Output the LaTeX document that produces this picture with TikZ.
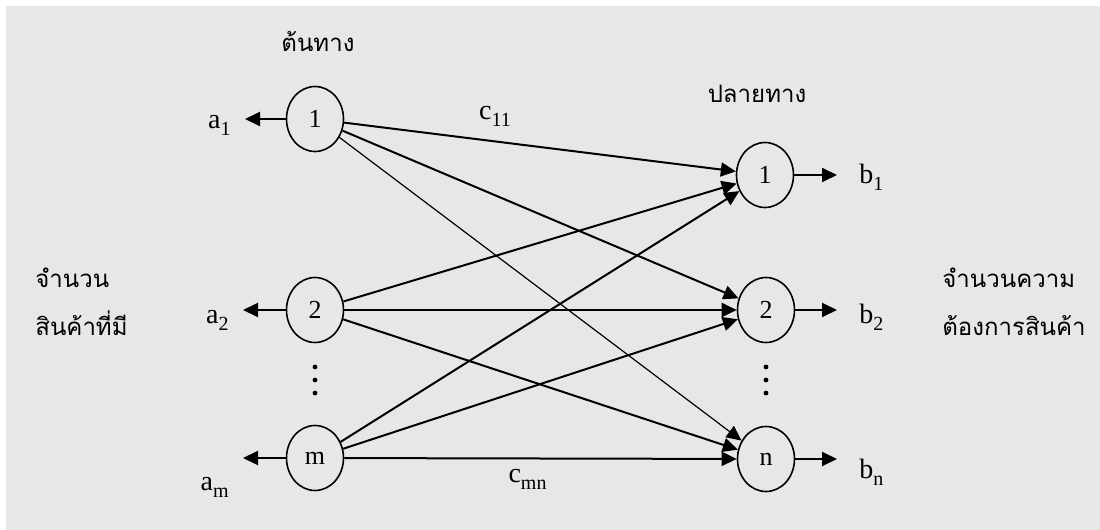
\documentclass[tikz,border=0pt]{standalone}
\usepackage{fontspec}
\setmainfont{Liberation Serif}
\newfontfamily\thaifont[Script=Thai]{Loma}
\usepackage{tikz}
\usetikzlibrary{positioning,shapes.geometric,arrows.meta}

\definecolor{paper}{RGB}{231,231,231}

% letter with a lowered index
\newcommand{\ix}[2]{#1\raisebox{-3.5pt}{\fontsize{10}{10}\selectfont #2}}

\tikzset{
  place/.style={draw, ellipse, minimum width=28.5pt, minimum height=32.5pt, inner sep=0pt, line width=0.8pt},
  flow/.style={-{Triangle[length=7.5pt,width=7pt]}, line width=1pt},
  lbl/.style={inner xsep=#1, inner ysep=1pt, font=\fontsize{14}{16}\selectfont},
  lbl/.default=7pt,
  thai/.style={font=\thaifont\fontsize{12}{14}\selectfont, inner sep=0pt}
}

\begin{document}
\begin{tikzpicture}[x=0.5pt, y=-0.5pt, font=\fontsize{13}{15}\selectfont]
  \fill[white] (0,0) rectangle (1100,530);
  \fill[paper] (6,6) rectangle (1100,530);
  \useasboundingbox (0,0) rectangle (1100,530);

  % sources and destinations
  \node[place] (s1) at (315,119) {1};
  \node[place] (s2) at (315,310) {2};
  \node[place] (sm) at (315,458) {m};

  \node[place] (d1) at (765,175) {1};
  \node[place] (d2) at (766,310) {2};
  \node[place] (dn) at (766,459) {n};

  \foreach \y in {367,380,393} {
    \fill (315,\y) circle (1.2pt);
    \fill (766,\y) circle (1.2pt);
  }

  % supply and demand
  \node[lbl, anchor=base east] (a1) at (245,128) {\ix{a}{1}};
  \node[lbl, anchor=base east] (a2) at (243,323) {\ix{a}{2}};
  \node[lbl, anchor=base east] (am) at (243,490) {\ix{a}{m}};

  \node[lbl=11pt, anchor=base west] (b1) at (837,183) {\ix{b}{1}};
  \node[lbl=11pt, anchor=base west] (b2) at (837,323) {\ix{b}{2}};
  \node[lbl=11pt, anchor=base west] (bn) at (837,478) {\ix{b}{n}};

  \draw[flow] (s1) -- (s1 -| a1.east);
  \draw[flow] (s2) -- (s2 -| a2.east);
  \draw[flow] (sm) -- (sm -| am.east);

  \draw[flow] (d1) -- (d1 -| b1.west);
  \draw[flow] (d2) -- (d2 -| b2.west);
  \draw[flow] (dn) -- (dn -| bn.west);

  % shipping routes
  \draw[flow] (s1) -- node[pos=0.385, above=6pt, lbl=1pt] (c11) {\ix{c}{11}} (d1);
  \draw[flow] (sm) -- node[pos=0.467, below=4pt, lbl=1pt] (cmn) {\ix{c}{mn}} (dn);
  \draw[flow, line width=0.6pt] (s1) -- (dn);
  \foreach \s/\d in {s1/d2, s2/d1, s2/d2, s2/dn, sm/d1, sm/d2}
    \draw[flow] (\s) -- (\d);

  % headings
  \node[thai, anchor=base] (from) at (318,52) {ต้นทาง};
  \node[thai, anchor=base] (to) at (757,103) {ปลายทาง};
  \node[thai, anchor=base west] (supply1) at (35,287) {จำนวน};
  \node[thai, anchor=base west] (supply2) at (35,335) {สินค้าที่มี};
  \node[thai, anchor=base west] (demand1) at (942,287) {จำนวนความ};
  \node[thai, anchor=base west] (demand2) at (942,335) {ต้องการสินค้า};
\end{tikzpicture}
\end{document}
